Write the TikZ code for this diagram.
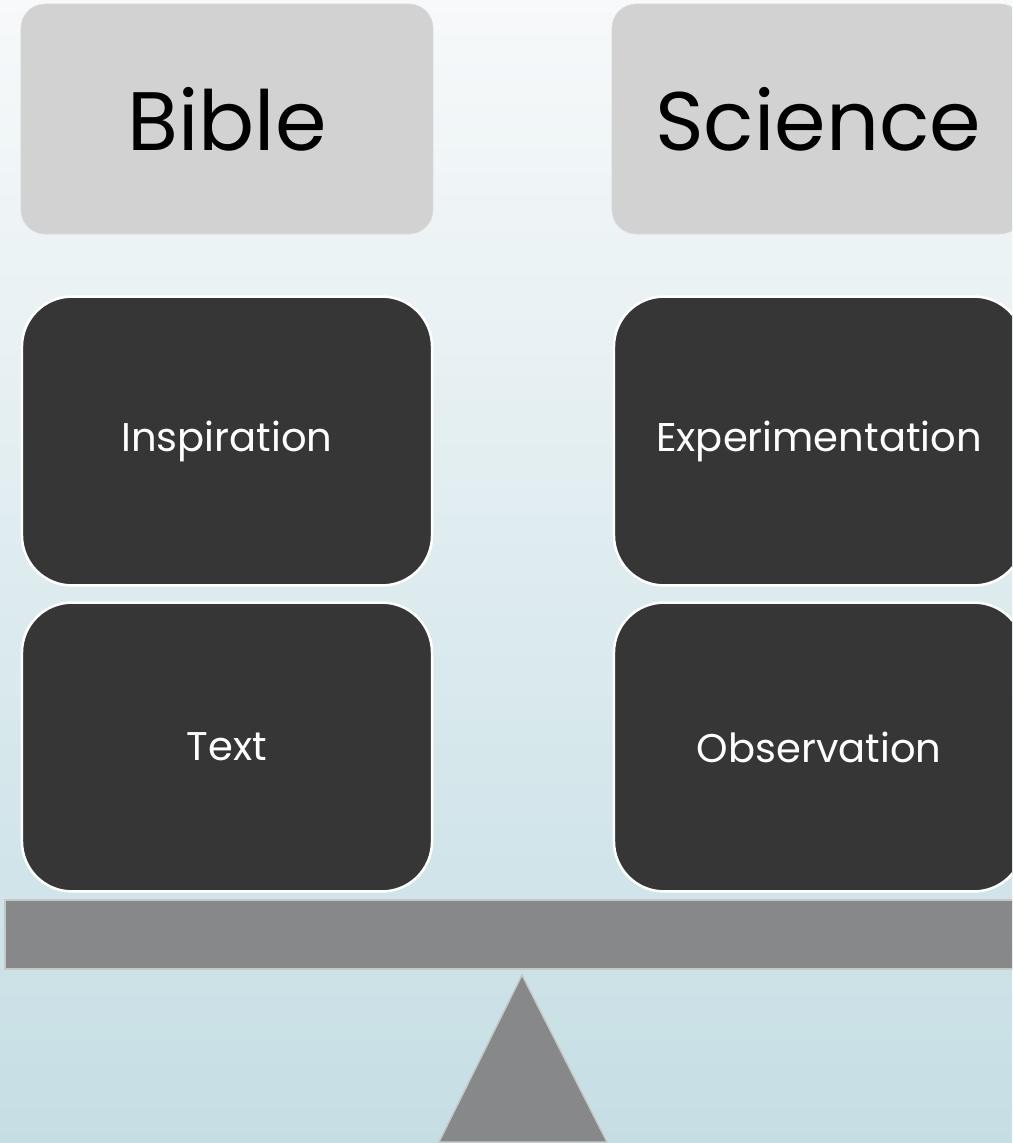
\documentclass[tikz,border=0pt]{standalone}
\usepackage{fontspec}
\setmainfont{Poppins}
\usetikzlibrary{positioning}
\definecolor{bgtop}{HTML}{F7F9FA}
\definecolor{bgbottom}{HTML}{C5DEE4}
\definecolor{headfill}{HTML}{D2D2D2}
\definecolor{cardfill}{HTML}{363636}
\definecolor{beamgray}{HTML}{87888A}
\begin{document}
\begin{tikzpicture}[x=0.025cm,y=-0.025cm,
    head/.style={fill=headfill,draw=black!12,rounded corners=0.6cm,
      minimum width=10.3cm,minimum height=5.75cm,inner sep=0pt,
      font=\fontsize{59}{62}\selectfont},
    card/.style={fill=cardfill,draw=white,line width=1.8pt,rounded corners=1.25cm,
      minimum width=10.25cm,minimum height=7.22cm,inner sep=0pt,text=white,
      font=\fontsize{28.5}{32}\selectfont}]
    \useasboundingbox (0,0) rectangle (1012,1143);
    \clip (0,0) rectangle (1012,1143);
    \shade[top color=bgtop,bottom color=bgbottom] (0,0) rectangle (1012,1143);
    % headings
    \node[head] (bible) at (227,119) {Bible};
    \node[head] (science) at (818,119) {Science};
    % the two columns
    \node[card] (inspiration) at (227,441) {Inspiration};
    \node[card] (text) at (227,747) {Text};
    \node[card] (experimentation) at (819,441) {Experimentation};
    \node[card] (observation) at (819,747) {Observation};
    % the balance
    \draw[fill=beamgray,draw=black!22,line width=1pt] (5,900) rectangle (1040,969);
    \draw[fill=beamgray,draw=black!22,line width=1pt] (522,975) -- (607,1142) -- (439,1142) -- cycle;
\end{tikzpicture}
\end{document}
